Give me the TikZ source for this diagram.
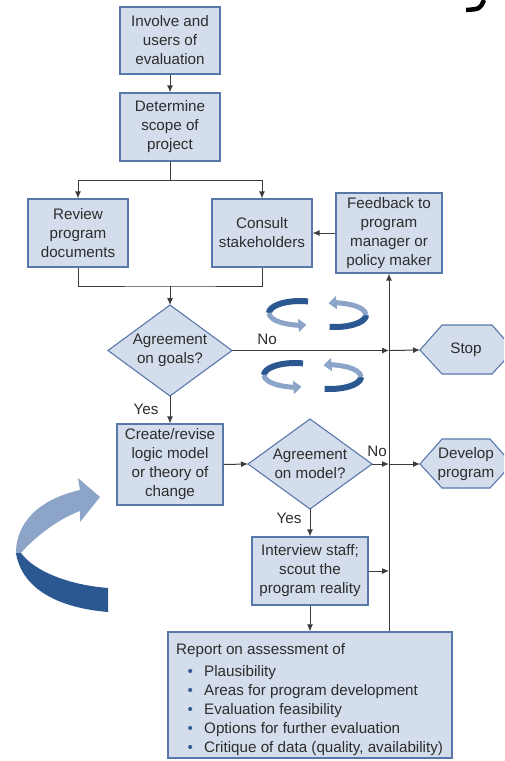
\documentclass[tikz,border=0pt]{standalone}
\usepackage{fontspec}
\setmainfont{Liberation Sans}
\usetikzlibrary{arrows.meta,calc}
\definecolor{boxfill}{RGB}{212,221,235}
\definecolor{boxline}{RGB}{88,120,170}
\definecolor{txt}{RGB}{45,45,45}
\definecolor{conncol}{RGB}{60,60,60}
\definecolor{darkb}{RGB}{44,88,145}
\definecolor{lightb}{RGB}{140,164,200}
\definecolor{bul}{RGB}{50,90,150}
\begin{document}
\begin{tikzpicture}[x=1pt,y=-1pt,
  font=\fontsize{15.2}{19}\selectfont, text=txt,
  box/.style={draw=boxline, fill=boxfill, line width=1.1pt, align=center, inner sep=0pt},
  shapeline/.style={draw=boxline, fill=boxfill, line width=1.1pt},
  conn/.style={draw=conncol, line width=1pt},
  arr/.style={conn, -{Latex[length=7pt,width=6pt]}},
  lbl/.style={inner sep=0pt, align=center},
  darkring/.style={draw=darkb, line width=6pt},
  lightring/.style={draw=lightb, line width=5pt, -{Triangle[length=8pt,width=13pt]}},
]
\useasboundingbox (0,0) rectangle (504,761);
\clip (0,0) rectangle (504,761);

% partial glyph at top right
\draw[black, line width=4.5pt] (484,0) .. controls (480,9) .. (466,10);

% boxes
\node[box, minimum width=100pt, minimum height=67pt] (involve) at (170,40.5) {Involve and\\users of\\evaluation};
\node[box, minimum width=100pt, minimum height=68pt] (scope) at (170,127) {Determine\\scope of\\project};
\node[box, minimum width=100pt, minimum height=68pt] (review) at (78,233) {Review\\program\\documents};
\node[box, minimum width=100pt, minimum height=68pt] (consult) at (262,233) {Consult\\stakeholders};
\node[box, minimum width=106pt, minimum height=80pt] (feedback) at (389,233) {Feedback to\\program\\manager or\\policy maker};
\node[box, minimum width=106pt, minimum height=81pt] (create) at (170,464.5) {Create/revise\\logic model\\or theory of\\change};
\node[box, minimum width=116pt, minimum height=68pt] (interview) at (310,571) {Interview staff;\\scout the\\program reality};
\node[box, minimum width=284pt, minimum height=126pt] (report) at (310,695) {};

% diamonds
\coordinate (goalsL) at (108,350.5);
\coordinate (goalsT) at (170,305);
\coordinate (goalsR) at (232,350.5);
\coordinate (goalsB) at (170,396);
\draw[shapeline] (goalsL) -- (goalsT) -- (goalsR) -- (goalsB) -- cycle;
\node[lbl] (goals) at (170,350.5) {Agreement\\on goals?};

\coordinate (modelL) at (248,464);
\coordinate (modelT) at (310,419);
\coordinate (modelR) at (372,464);
\coordinate (modelB) at (310,509);
\draw[shapeline] (modelL) -- (modelT) -- (modelR) -- (modelB) -- cycle;
\node[lbl] (model) at (310,464) {Agreement\\on model?};

% hexagons
\coordinate (stopL) at (420,350);
\draw[shapeline] (stopL) -- (442,325) -- (492,325) -- (514,350) -- (492,374) -- (442,374) -- cycle;
\node[lbl] (stop) at (466,350) {Stop};
\coordinate (devL) at (420,464);
\draw[shapeline] (devL) -- (442,439) -- (490,439) -- (512,464) -- (490,488) -- (442,488) -- cycle;
\node[lbl] (develop) at (466,464.5) {Develop\\program};

% report text
\node[inner sep=0pt, anchor=base west] (r0) at (176,654.5) {Report on assessment of};
\node[inner sep=0pt, anchor=base west] (r1) at (187.5,676.5) {\makebox[16.5pt][l]{\textcolor{bul}{\textbullet}}Plausibility};
\node[inner sep=0pt, anchor=base west] (r2) at (187.5,695.5) {\makebox[16.5pt][l]{\textcolor{bul}{\textbullet}}Areas for program development};
\node[inner sep=0pt, anchor=base west] (r3) at (187.5,714.5) {\makebox[16.5pt][l]{\textcolor{bul}{\textbullet}}Evaluation feasibility};
\node[inner sep=0pt, anchor=base west] (r4) at (187.5,733.5) {\makebox[16.5pt][l]{\textcolor{bul}{\textbullet}}Options for further evaluation};
\node[inner sep=0pt, anchor=base west] (r5) at (187.5,752.5) {\makebox[16.5pt][l]{\textcolor{bul}{\textbullet}}Critique of data (quality, availability)};

% connectors
\draw[arr] (involve) -- (scope);
\coordinate (split) at (170,180);
\draw[conn] (scope.south) -- (split);
\draw[arr] (split) -| (review.north);
\draw[arr] (split) -| (consult.north);
\coordinate (merge) at (170,286);
\draw[conn] (review.south) |- (merge) -| (consult.south);
\draw[arr] (merge) -- (goalsT);
\draw[arr] (feedback.west) -- (consult.east);

\coordinate (v1) at (389,350.5);
\coordinate (v2) at (389,464);
\coordinate (v3) at (389,571);
\draw[arr] (report.north -| feedback.south) -- (feedback.south);
\draw[arr] (goalsR) -- (v1);
\draw[arr] (v1) -- (stopL);
\draw[arr] (goalsB) -- (create.north);
\draw[arr] (create.east) -- (modelL);
\draw[arr] (modelR) -- (v2);
\draw[arr] (v2) -- (devL);
\draw[arr] (modelB) -- (interview.north);
\draw[arr] (interview.east) -- (v3);
\draw[arr] (interview.south) -- (report.north);

% labels
\node[lbl] (no1) at (267,339) {No};
\node[lbl] (no2) at (377,451) {No};
\node[lbl] (yes1) at (146,409) {Yes};
\node[lbl] (yes2) at (289,518) {Yes};

% rotation arrows (top pair)
\draw[darkring] ($(300,313)+({31*cos(285)},{12*sin(285)})$) arc[start angle=285, end angle=180, x radius=31, y radius=12];
\draw[lightring] (269,313) arc[start angle=180, end angle=78, x radius=31, y radius=12];
\draw[darkring] ($(335,315)+({31*cos(100)},{12*sin(100)})$) arc[start angle=100, end angle=0, x radius=31, y radius=12];
\draw[lightring] (366,315) arc[start angle=0, end angle=-102, x radius=31, y radius=12];
% rotation arrows (bottom pair)
\draw[darkring] ($(295,375)+({31*cos(285)},{12*sin(285)})$) arc[start angle=285, end angle=180, x radius=31, y radius=12];
\draw[lightring] (264,375) arc[start angle=180, end angle=78, x radius=31, y radius=12];
\draw[darkring] ($(330,377)+({31*cos(100)},{12*sin(100)})$) arc[start angle=100, end angle=0, x radius=31, y radius=12];
\draw[lightring] (361,377) arc[start angle=0, end angle=-102, x radius=31, y radius=12];

% big curved arrow
\fill[lightb] (16,555) .. controls (15,522) and (40,499) .. (80,490) -- (78,478) -- (100,497) -- (80,522) -- (80,511) .. controls (55,520) and (30,542) .. (21,553) -- cycle;
\fill[darkb] (16,553) -- (21,553) .. controls (35,572) and (70,585) .. (108,588) -- (108,612) .. controls (60,608) and (22,590) .. (16,553) -- cycle;
\end{tikzpicture}
\end{document}
